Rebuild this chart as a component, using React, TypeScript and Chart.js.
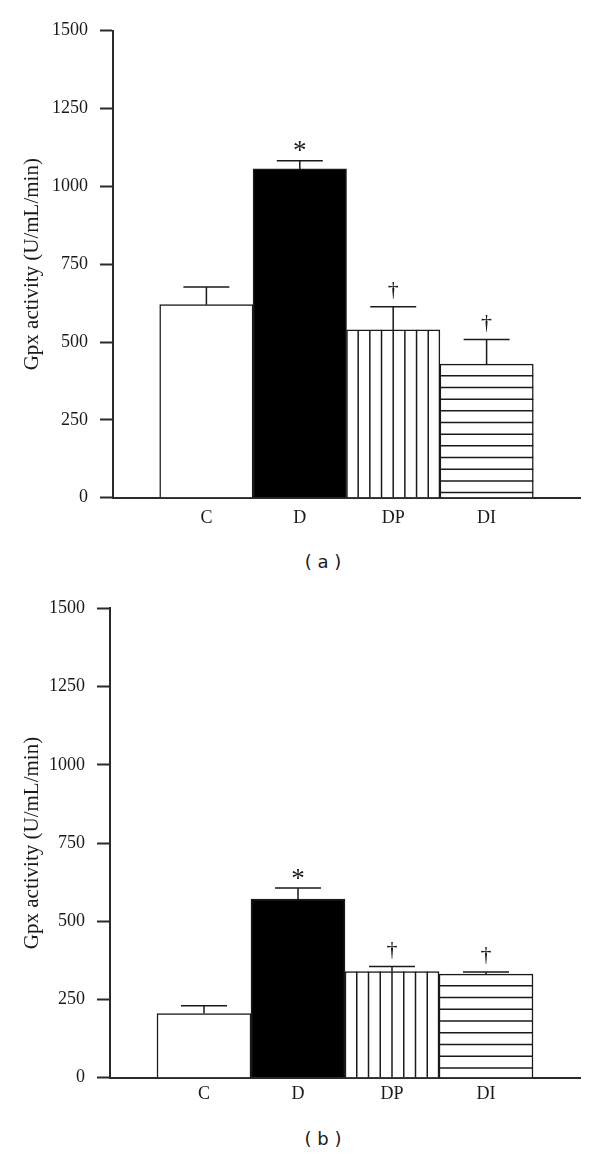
import React, { useEffect, useRef } from 'react';
import { Chart, registerables } from 'chart.js';

Chart.register(...registerables);

// ---------- data ----------
const categories = ['C', 'D', 'DP', 'DI'];
const yTicks = [0, 250, 500, 750, 1000, 1250, 1500];
const valuesA = [620, 1056, 539, 429];
const errorsA = [57, 26, 74, 79];
const valuesB = [205, 571, 339, 331];
const errorsB = [25, 35, 16, 7];
const markers = ['', '*', '†', '†'];
const yTitle = 'Gpx activity (U/mL/min)';
const panelLabels = ['( a )', '( b )'];

// ---------- styles ----------
const fills = ['#ffffff', '#000000', '#ffffff', '#ffffff'];
const hatches = ['none', 'none', 'vertical', 'horizontal'];
const SERIF = '"Liberation Serif", "Times New Roman", serif';
const INK = '#1a1a1a';
const AXIS = '#2a2a2a';

const decorPlugin = {
  id: 'decor',
  afterDatasetsDraw(chart: any, _args: any, opts: any) {
    const ctx = chart.ctx;
    const meta = chart.getDatasetMeta(0);
    const yScale = chart.scales.y;
    const ds = chart.data.datasets[0];
    const errs: number[] = opts.errors;
    const marks: string[] = opts.markers;
    meta.data.forEach((bar: any, i: number) => {
      const { x, y, base, width } = bar.getProps(['x', 'y', 'base', 'width'], true);
      const left = x - width / 2;
      const step = width / 8;
      ctx.save();
      ctx.strokeStyle = INK;
      ctx.lineWidth = 1.5;
      if (hatches[i] === 'vertical') {
        for (let k = 1; k < 8; k++) {
          const px = left + k * step;
          ctx.beginPath();
          ctx.moveTo(px, y);
          ctx.lineTo(px, base);
          ctx.stroke();
        }
      } else if (hatches[i] === 'horizontal') {
        for (let py = y + step; py < base - 2; py += step) {
          ctx.beginPath();
          ctx.moveTo(left, py);
          ctx.lineTo(left + width, py);
          ctx.stroke();
        }
      }
      const v = ds.data[i].y;
      const capY = yScale.getPixelForValue(v + errs[i]);
      ctx.beginPath();
      ctx.moveTo(x, y);
      ctx.lineTo(x, capY);
      ctx.moveTo(x - 23, capY);
      ctx.lineTo(x + 23, capY);
      ctx.stroke();
      const m = marks[i];
      if (m) {
        const isStar = m === '*';
        ctx.font = (isStar ? '27px ' : '22px ') + SERIF;
        ctx.fillStyle = INK;
        ctx.textAlign = 'center';
        ctx.textBaseline = 'alphabetic';
        const tm = ctx.measureText(m);
        const cy = capY - (isStar ? 14 : 16.5);
        const by = cy + (tm.actualBoundingBoxAscent - tm.actualBoundingBoxDescent) / 2;
        ctx.fillText(m, x, by);
      }
      ctx.restore();
    });
  },
};

type PanelProps = {
  values: number[];
  errors: number[];
  top: number;
  padTop: number;
  yWidth: number;
  labelPad: number;
};

const CANVAS_H = 540;
const AREA_BOTTOM = 497.7;
const X_H = 40;

function Panel({ values, errors, top, padTop, yWidth, labelPad }: PanelProps) {
  const ref = useRef<HTMLCanvasElement>(null);
  useEffect(() => {
    const chart = new Chart(ref.current as HTMLCanvasElement, {
      type: 'bar',
      data: {
        datasets: [
          {
            data: categories.map((_, i) => ({ x: i + 1, y: values[i] })),
            backgroundColor: fills,
            borderColor: INK,
            borderWidth: 1.5,
            barPercentage: 1,
            categoryPercentage: 1,
          } as any,
        ],
      },
      options: {
        responsive: false,
        animation: false,
        layout: {
          padding: { top: padTop, right: 20, bottom: CANVAS_H - AREA_BOTTOM - X_H, left: 0 },
        },
        plugins: {
          legend: { display: false },
          tooltip: { enabled: false },
          decor: { errors, markers },
        } as any,
        scales: {
          x: {
            type: 'linear',
            min: 0,
            max: 5,
            offset: false,
            grid: { display: false },
            border: { display: true, color: AXIS, width: 2 },
            afterBuildTicks: (s: any) => {
              s.ticks = categories.map((_, i) => ({ value: i + 1 }));
            },
            afterFit: (s: any) => {
              s.height = X_H;
            },
            ticks: {
              autoSkip: false,
              maxRotation: 0,
              padding: labelPad,
              color: INK,
              font: { family: SERIF, size: 18, lineHeight: 0.6 },
              callback: (v: any) => categories[Number(v) - 1] ?? '',
            },
          },
          y: {
            type: 'linear',
            min: 0,
            max: 1500,
            afterBuildTicks: (s: any) => {
              s.ticks = yTicks.map((v) => ({ value: v }));
            },
            afterFit: (s: any) => {
              s.width = yWidth;
            },
            grid: {
              drawOnChartArea: false,
              drawTicks: true,
              tickLength: 13,
              tickColor: AXIS,
              tickWidth: 2,
            },
            border: { display: true, color: AXIS, width: 2 },
            ticks: {
              padding: 12,
              color: INK,
              font: { family: SERIF, size: 18 },
              callback: (v: any) => String(v),
            },
            title: {
              display: true,
              text: yTitle,
              color: INK,
              font: { family: SERIF, size: 21 },
              padding: { top: 20, bottom: 0 },
            },
          },
        } as any,
      },
      plugins: [decorPlugin as any],
    });
    return () => chart.destroy();
  }, []);
  return (
    <div style={{ position: 'absolute', left: 0, top, width: 600, height: CANVAS_H }}>
      <canvas ref={ref} width={600} height={CANVAS_H} style={{ display: 'block' }} />
    </div>
  );
}

function PanelLabel({ text, centerY }: { text: string; centerY: number }) {
  return (
    <div
      style={{
        position: 'absolute',
        left: 323,
        top: centerY - 11,
        transform: 'translateX(-50%)',
        font: '18px "DejaVu Sans", sans-serif',
        lineHeight: '22px',
        color: INK,
        whiteSpace: 'pre',
      }}
    >
      {text}
    </div>
  );
}

export default function App() {
  return (
    <div
      style={{
        position: 'absolute',
        left: 0,
        top: 0,
        width: 600,
        height: 1154,
        background: '#ffffff',
        overflow: 'hidden',
      }}
    >
      <Panel values={valuesA} errors={errorsA} top={0} padTop={30.7} yWidth={113} labelPad={7.5} />
      <PanelLabel text={panelLabels[0]} centerY={562.3} />
      <Panel values={valuesB} errors={errorsB} top={580} padTop={28.3} yWidth={110} labelPad={3.3} />
      <PanelLabel text={panelLabels[1]} centerY={1139} />
    </div>
  );
}
